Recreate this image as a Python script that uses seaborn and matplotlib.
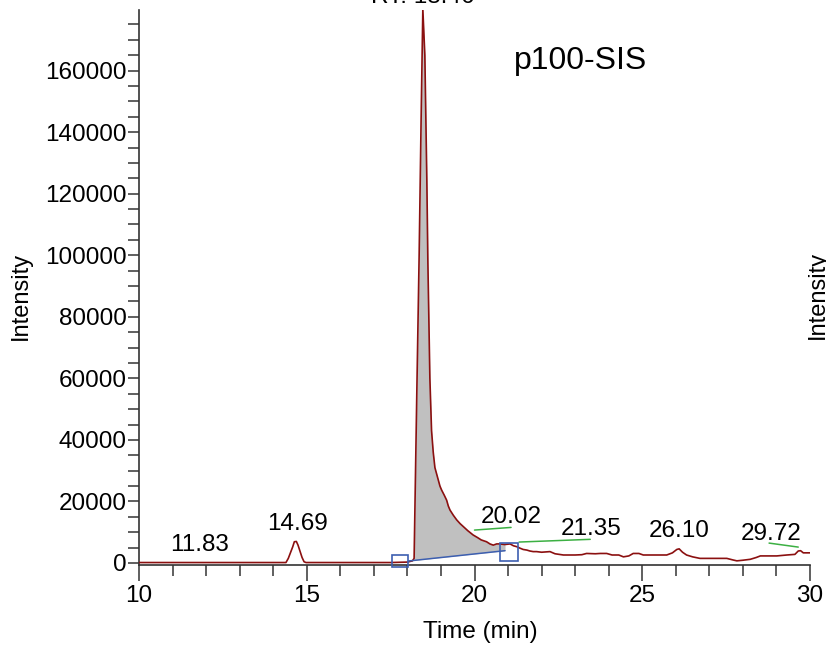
import numpy as np
import pandas as pd
import matplotlib
matplotlib.use("Agg")
import matplotlib.pyplot as plt
from matplotlib.patches import Rectangle
import seaborn as sns

# ---- data ----
time_min = [10.00, 11.00, 12.00, 13.00, 14.00, 14.38, 14.45, 14.52, 14.58, 14.63,
            14.69, 14.74, 14.80, 14.86, 14.92, 14.98, 16.00, 17.00, 17.50, 18.00,
            18.15, 18.20, 18.28, 18.35, 18.41, 18.46, 18.52, 18.58, 18.61, 18.67,
            18.72, 18.77, 18.82, 18.87, 18.92, 18.97, 19.02, 19.10, 19.17, 19.22,
            19.27, 19.37, 19.47, 19.57, 19.67, 19.80, 19.96, 20.10, 20.20, 20.36,
            20.46, 20.56, 20.66, 20.76, 20.90, 21.06, 21.16, 21.26, 21.36, 21.45,
            21.56, 21.65, 21.75, 21.85, 22.00, 22.25, 22.40, 22.65, 23.00, 23.20,
            23.34, 23.60, 23.75, 23.94, 24.10, 24.30, 24.44, 24.60, 24.73, 24.90,
            25.03, 25.40, 25.73, 25.90, 26.03, 26.10, 26.20, 26.32, 26.50, 26.72,
            27.00, 27.30, 27.52, 27.70, 27.82, 28.00, 28.22, 28.40, 28.52, 28.80,
            29.01, 29.31, 29.55, 29.65, 29.72, 29.80, 30.00]
intensity = [150, 150, 150, 150, 150, 150, 1500, 3500, 5200, 6900,
             7000, 5800, 3800, 1800, 400, 150, 150, 150, 150, 300,
             700, 1500, 55000, 100000, 145000, 180000, 165000, 124000, 98000, 60000,
             43000, 36000, 31000, 29000, 27000, 25000, 23700, 22000, 20400, 18500,
             17200, 15500, 14000, 12800, 11800, 10500, 9100, 8200, 7500, 6900,
             6200, 5800, 6200, 6200, 6000, 6200, 5600, 5300, 4800, 4400,
             4200, 3900, 3700, 3700, 3500, 3700, 3000, 2600, 2600, 2700,
             3100, 3000, 3100, 3100, 2600, 2600, 2000, 2300, 3100, 3100,
             2600, 2600, 2600, 3300, 4400, 4600, 3500, 2600, 2000, 1500,
             1500, 1500, 1500, 1000, 700, 900, 1200, 1800, 2300, 2300,
             2300, 2600, 2800, 3900, 4000, 3300, 3300]

peak_labels = ["11.83", "14.69", "20.02", "21.35", "26.10", "29.72"]
label_x = [11.82, 14.72, 21.11, 23.49, 26.10, 28.83]
label_y = [5840, 12660, 14930, 11140, 10390, 9410]

# integration of main peak (baseline start/end)
base_t = [18.03, 20.91]
base_i = [650, 4000]
box_t = [17.78, 21.03]
box_i = [650, 3670]

# green label leader lines: (t0, i0, t1, i1)
green_lines = [(20.00, 10700, 21.09, 11560),
               (21.33, 6810, 23.45, 7690),
               (28.78, 6470, 29.65, 5170)]

x_ticks = [10, 15, 20, 25, 30]
y_ticks = [0, 20000, 40000, 60000, 80000, 100000, 120000, 140000, 160000]

df = pd.DataFrame({"Time (min)": time_min, "Intensity": intensity})

sns.set_style("ticks")
plt.rcParams["font.family"] = ["Liberation Sans", "DejaVu Sans"]

fig = plt.figure(figsize=(8.26, 6.47), dpi=100)
ax = fig.add_axes([139/826, 1 - 565/647, (810 - 139)/826, (565 - 10)/647])

# gray integrated area
t_arr = np.array(time_min, dtype=float)
i_arr = np.array(intensity, dtype=float)
mask = (t_arr > base_t[0]) & (t_arr < base_t[1])
ft = np.concatenate([[base_t[0]], t_arr[mask], [base_t[1]]])
fi = np.concatenate([[np.interp(base_t[0], t_arr, i_arr)], i_arr[mask],
                     [np.interp(base_t[1], t_arr, i_arr)]])
fb = np.interp(ft, base_t, base_i)
ax.fill_between(ft, fb, fi, color="#c0c0c0", lw=0, zorder=1)

sns.lineplot(data=df, x="Time (min)", y="Intensity", ax=ax, color="#8b1010",
             lw=1.2, zorder=3, estimator=None, sort=False)

# baseline and boxes
ax.plot(base_t, base_i, color="#3d5fb0", lw=1.1, zorder=4)
box_w = [0.495, 0.516]
box_h = [3800, 5850]
for bt, bi, w, h in zip(box_t, box_i, box_w, box_h):
    ax.add_patch(Rectangle((bt - w/2, bi - h/2), w, h, fill=False,
                           edgecolor="#3d5fb0", lw=1.2, zorder=5, clip_on=False))

for (t0, i0, t1, i1) in green_lines:
    ax.plot([t0, t1], [i0, i1], color="#3cb043", lw=1.1, zorder=4)

for lab, lx, ly in zip(peak_labels, label_x, label_y):
    ax.text(lx, ly, lab, ha="center", va="center", fontsize=17.5, color="black",
            zorder=6)

ax.set_xlim(10, 30)
ax.set_ylim(-650, 179700)
ax.set_xticks(x_ticks)
ax.set_xticks(np.arange(10, 31, 1), minor=True)
ax.set_yticks(y_ticks)
ax.set_yticks(np.arange(0, 179000, 5000), minor=True)
ax.set_xticklabels([str(v) for v in x_ticks])
ax.set_yticklabels([str(v) for v in y_ticks])

for s in ["top", "right"]:
    ax.spines[s].set_visible(False)
for s in ["left", "bottom"]:
    ax.spines[s].set_color("#333333")
    ax.spines[s].set_linewidth(1.2)

ax.tick_params(axis="x", which="major", length=11.5, width=1.2, color="#444444",
               labelsize=17.5, labelcolor="black", pad=3, direction="out")
ax.tick_params(axis="x", which="minor", length=8, width=1.2, color="#444444",
               direction="out")
ax.tick_params(axis="y", which="both", length=8, width=1.2, color="#444444",
               labelsize=17.5, labelcolor="black", pad=1, direction="out")

ax.set_xlabel("")
ax.set_ylabel("")
fig.text(480/826, 1 - 632/647, "Time (min)", ha="center", va="center", fontsize=17.5,
         color="black")
fig.text(21/826, 1 - 296/647, "Intensity", ha="center", va="center",
         rotation=90, fontsize=17, color="black")
fig.text(818/826, 1 - 295/647, "Intensity", ha="center", va="center",
         rotation=90, fontsize=17, color="black")
fig.text(581/826, 1 - 61/647, "p100-SIS", ha="center", va="center", fontsize=23,
         color="black")
fig.text(423/826, 1 - 3/647, "RT: 18.46", ha="center", va="baseline", fontsize=17.5,
         color="black")

fig.savefig("out.png", dpi=100)
